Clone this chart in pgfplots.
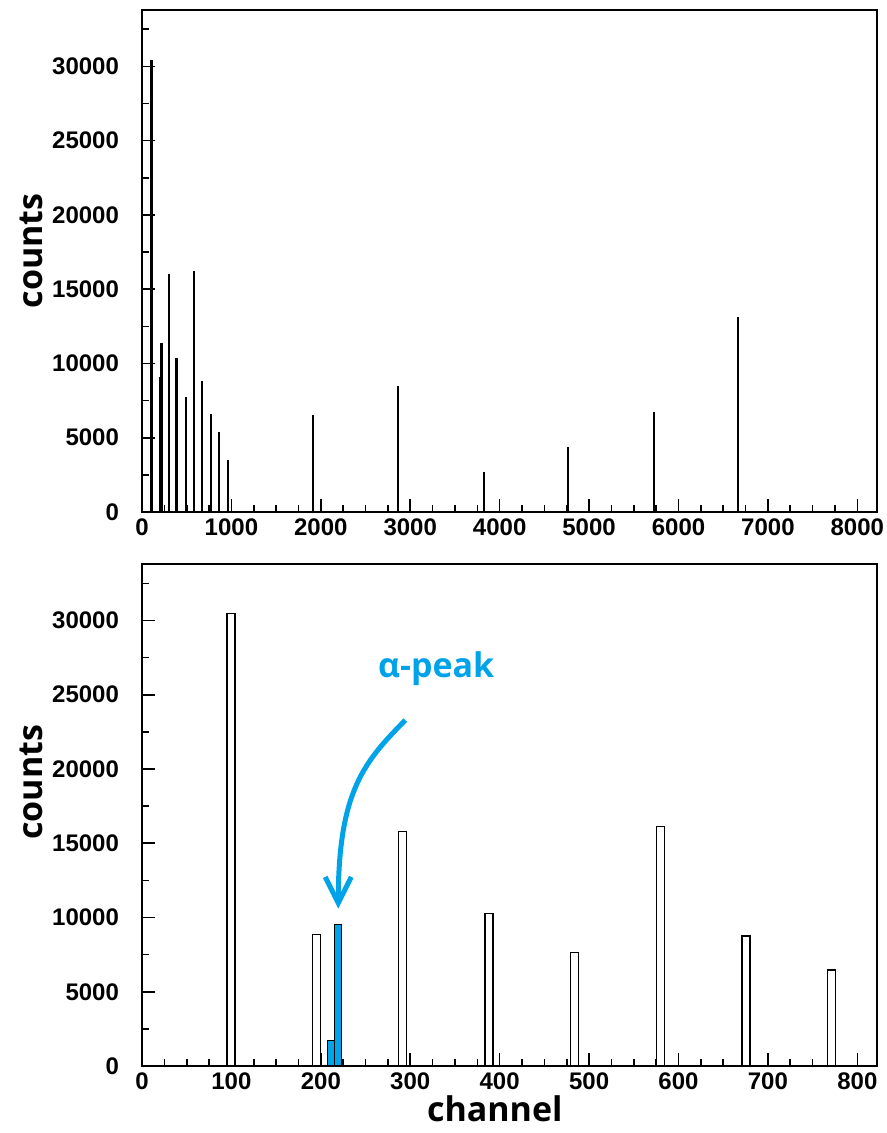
\documentclass[border=0pt]{standalone}
\usepackage{fontspec}
\setmainfont{Liberation Sans}
\newfontfamily\labelfont{Open Sans}
\usepackage{pgfplots}
\pgfplotsset{compat=1.18}
\usetikzlibrary{arrows.meta}
\definecolor{alphablue}{HTML}{00A2E8}

\pgfplotsset{
  rootstyle/.style={
    width=367.5pt, height=251pt, scale only axis,
    axis line style={line width=0.8pt, black},
    every tick/.style={line width=0.8pt, black},
    major tick length=6.5pt, minor tick length=3.5pt,
    tick align=inside,
    xtick pos=left, ytick pos=left,
    scaled ticks=false,
    ymin=0, ymax=33800,
    ytick={0,5000,...,30000},
    minor ytick={2500,7500,...,32500},
    ticklabel style={font=\bfseries\fontsize{12}{14}\selectfont},
    /pgf/number format/assume math mode=true,
    /pgf/number format/1000 sep={},
    yticklabel style={xshift=-8pt},
    ylabel={counts},
    ylabel style={font=\labelfont\bfseries\fontsize{17}{20}\selectfont, anchor=base, rotate=0},
  }
}

\pgfplotstableread{
x y
106 30450
197 9100
218 11390
299 16000
385 10380
489 7760
581 16240
675 8840
768 6570
860 5360
965 3500
1910 6530
2862 8480
3822 2700
4763 4400
5723 6730
6663 13150
}\coarse

\pgfplotstableread{
x y
99.5 30450
195.5 8860
291.5 15790
388 10270
483.5 7630
580 16130
675.5 8750
771.5 6460
}\finewhite

\pgfplotstableread{
x y
211.5 1700
219.5 9530
}\fineblue

\begin{document}
\begin{tikzpicture}
\useasboundingbox (-71pt,5pt) rectangle (372.5pt,-561.5pt);
\begin{axis}[rootstyle,
  at={(0pt,0pt)}, anchor=north west,
  xmin=0, xmax=8220,
  xtick={0,1000,...,8000},
  minor xtick={250,500,750,1250,1500,1750,2250,2500,2750,3250,3500,3750,4250,4500,4750,5250,5500,5750,6250,6500,6750,7250,7500,7750},
  ylabel style={at={(axis description cs:-0.136,0.52)}},
]
\addplot[ycomb, black, line width=1.1pt, mark=none] table[x=x,y=y] {\coarse};
\end{axis}

\begin{axis}[rootstyle,
  at={(0pt,-277pt)}, anchor=north west,
  xmin=0, xmax=822,
  xtick={0,100,...,800},
  minor xtick={25,50,75,125,150,175,225,250,275,325,350,375,425,450,475,525,550,575,625,650,675,725,750,775},
  ylabel style={at={(axis description cs:-0.136,0.565)}},
  xlabel={channel},
  xlabel style={font=\labelfont\bfseries\fontsize{17}{20}\selectfont, at={(axis description cs:0.48,-0.111)}, anchor=base},
]
\addplot[ybar, bar width=9, bar shift=0pt, draw=black, fill=white, line width=0.6pt] table[x=x,y=y] {\finewhite};
\addplot[ybar, bar width=8, bar shift=0pt, draw=black, fill=alphablue, line width=0.6pt] table[x=x,y=y] {\fineblue};
\node[font=\labelfont\bfseries\fontsize{17}{20}\selectfont, text=alphablue] at (axis cs:329,26780) {α-peak};
\draw[alphablue, line width=2.5pt, -{Straight Barb[length=13pt,width=13pt]}]
  (axis cs:294.5,23290) .. controls (axis cs:249.7,20540) and (axis cs:219.5,18590) .. (axis cs:219.5,10600);
\end{axis}
\end{tikzpicture}
\end{document}
